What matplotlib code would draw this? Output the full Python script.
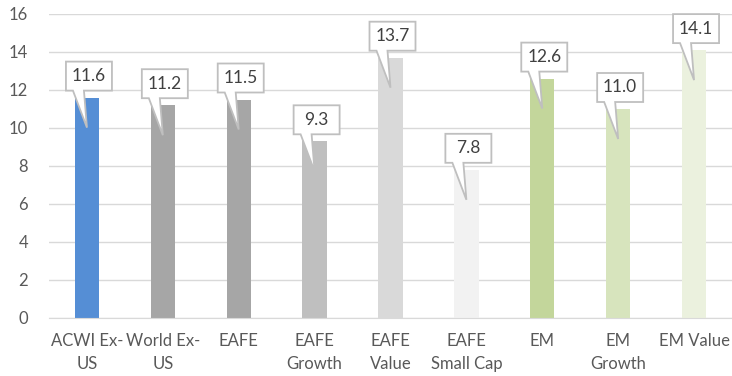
import matplotlib.pyplot as plt
from matplotlib.patches import Polygon

# chart data
categories = ["ACWI Ex-\nUS", "World Ex-\nUS", "EAFE", "EAFE\nGrowth", "EAFE\nValue",
              "EAFE\nSmall Cap", "EM", "EM\nGrowth", "EM Value"]
values = [11.6, 11.2, 11.5, 9.3, 13.7, 7.8, 12.6, 11.0, 14.1]
colors = ["#558ED5", "#A6A6A6", "#A6A6A6", "#BFBFBF", "#D9D9D9",
          "#F2F2F2", "#C3D69B", "#D7E4BD", "#EBF1DE"]

plt.rcParams['font.family'] = ['Lato', 'DejaVu Sans']

fig = plt.figure(figsize=(7.32, 3.76), dpi=100)
ax = fig.add_axes([49 / 732, (376 - 318) / 376, 683 / 732, 304 / 376])

x = list(range(len(values)))
ax.bar(x, values, width=0.32, color=colors, zorder=2)

ax.set_xlim(-0.5, len(values) - 0.5)
ax.set_ylim(0, 16)
ax.set_yticks(range(0, 17, 2))
ax.set_xticks(x)
ax.set_xticklabels(categories, linespacing=1.55)
ax.tick_params(axis="both", length=0, colors="#595959", labelsize=12)
ax.tick_params(axis="y", pad=15)
ax.tick_params(axis="x", pad=11)
ax.grid(axis="y", color="#D9D9D9", linewidth=1, zorder=0)
for side in ["top", "right", "left"]:
    ax.spines[side].set_visible(False)
ax.spines["bottom"].set_color("#D9D9D9")

# callout boxes (sizes in pixels converted to data units)
px_x = (len(values)) / 683
px_y = 16 / 304
bw, bh, gap = 46 * px_x, 29 * px_y, 7 * px_y
for xi, v in zip(x, values):
    cx = xi + 2 * px_x
    left, right = cx - bw / 2, cx + bw / 2
    bot, top = v + gap, v + gap + bh
    tip = (xi, v - 30 * px_y)
    pts = [(left, bot), (left + 7 * px_x, bot), tip, (left + 18 * px_x, bot),
           (right, bot), (right, top), (left, top)]
    ax.add_patch(Polygon(pts, closed=True, facecolor="white", edgecolor="#BFBFBF",
                         linewidth=1.3, zorder=3, clip_on=False))
    ax.text(cx, (bot + top) / 2, f"{v:.1f}", ha="center", va="center",
            fontsize=12.5, color="#404040", zorder=4)

fig.savefig("out.png", dpi=100)
